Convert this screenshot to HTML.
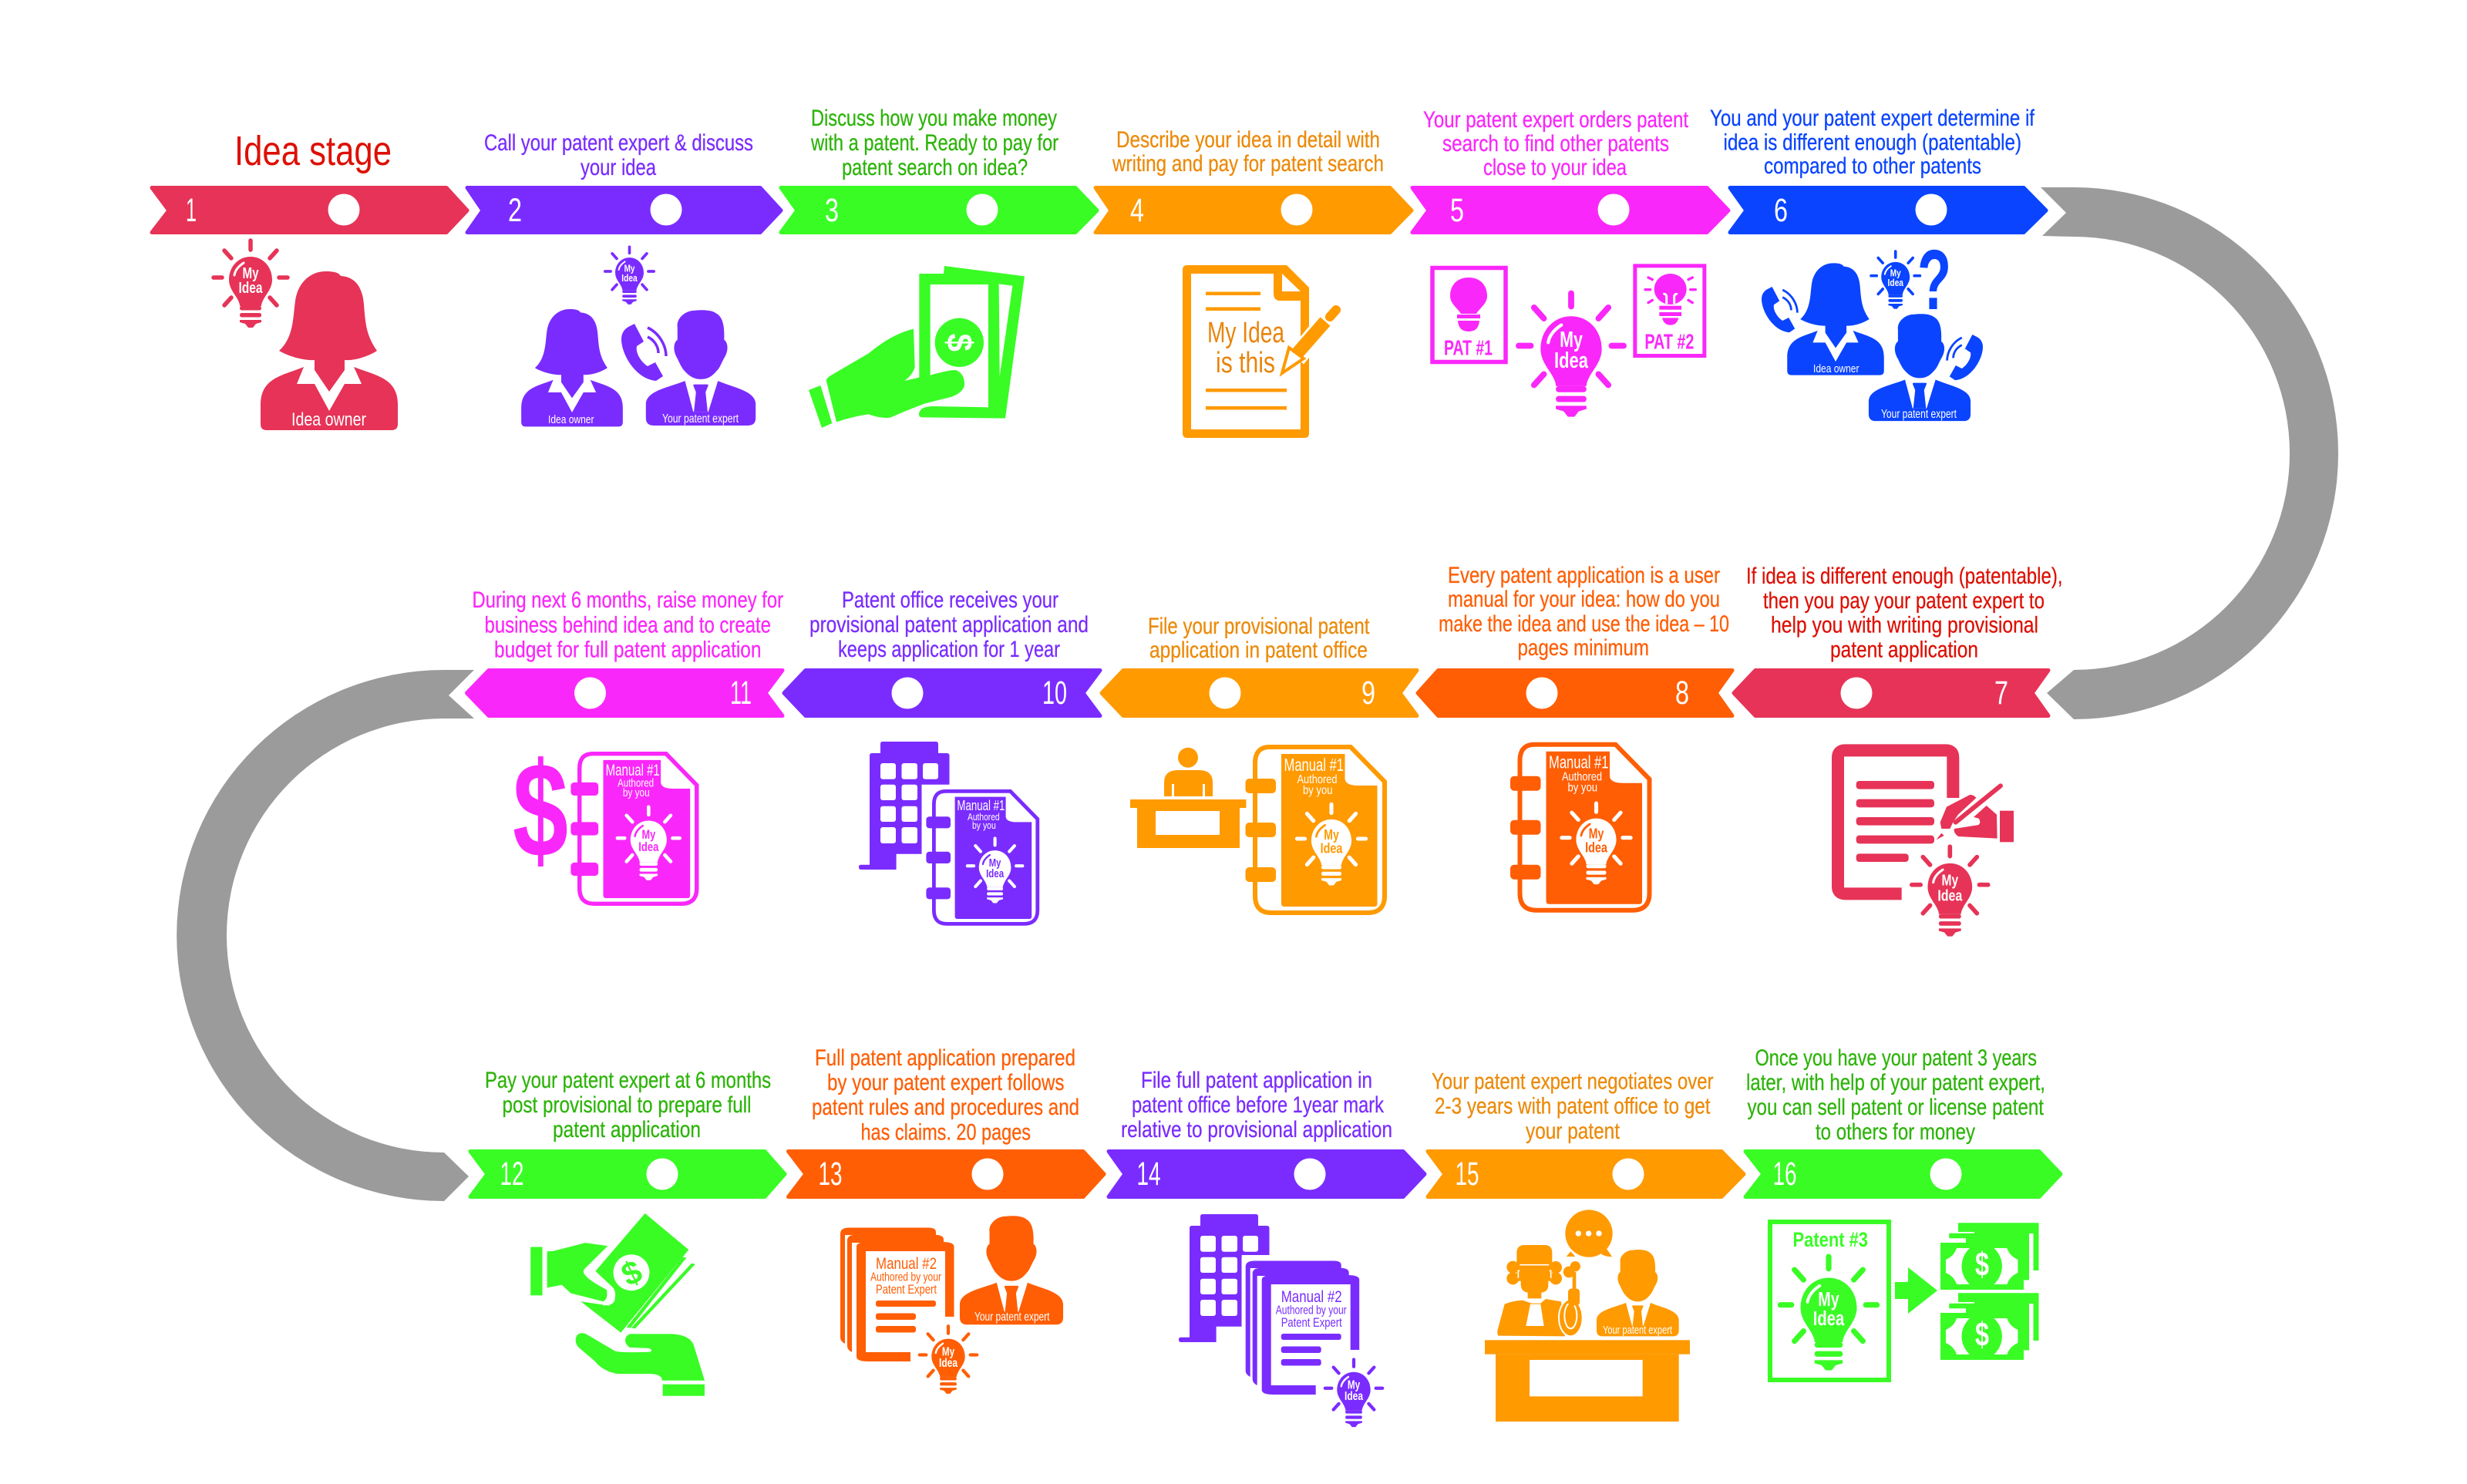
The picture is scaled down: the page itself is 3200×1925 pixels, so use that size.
<!DOCTYPE html>
<html><head><meta charset="utf-8"><title>Patent process</title>
<style>
html,body{margin:0;padding:0;background:#fff}
svg{display:block}
text{font-family:"Liberation Sans",sans-serif}
.a{stroke-width:5;stroke-linejoin:round}
.l{font-size:30px;stroke-width:.3}
.n{font-size:43px;fill:#fff;text-anchor:middle}
.bt{text-anchor:middle;font-size:20px;font-weight:bold}
.s{font-size:13px;fill:#fff}
</style></head><body>
<svg xmlns="http://www.w3.org/2000/svg" width="3200" height="1925" viewBox="0 0 3200 1925">
<defs>
<g id="b">
<path d="M0,-27C16,-27 28,-14 28,3C28,14 20,22 17,28C15,32 14,34 14,37L-14,37C-14,34 -15,32 -17,28C-20,22 -28,14 -28,3C-28,-14 -16,-27 0,-27Z"/>
<rect x="-14" y="37" width="28" height="5.5" rx="2.5"/><rect x="-14" y="46" width="28" height="5.5" rx="2.5"/>
<path d="M-14,55H14V58L7,60L3,65H-3L-7,60L-14,58Z"/>
<g stroke="currentColor" stroke-width="5.5" stroke-linecap="round" fill="none">
<path d="M0,-48V-36M-34,-35L-25,-25M34,-35L25,-25M-48,0H-37M48,0H37M-34,36L-25,26M34,36L25,26"/></g>
<path d="M-21,-3C-20,-10 -15,-15 -9,-19" fill="none" stroke-width="3" stroke-linecap="round" style="stroke:var(--h)"/>
</g>
<g id="w">
<path d="M-5,2C-22,2 -40,14 -44,40C-47,62 -46,88 -65,105C-50,114 -28,118 -19,117L-19,130L0,158L20,130L20,117C30,118 48,114 62,105C48,85 47,70 45,45C43,20 32,9 15,8C12,3 5,2 -5,2Z"/>
<path d="M-33,126C-60,137 -89,140 -89,175V200Q-89,208 -81,208H81Q89,208 89,200V175C89,140 60,137 32,126L42,148H20L0,183L-19,148H-42Z"/>
</g>
<g id="m">
<path d="M-68,50C-72,25 -45,2 -20,2C-5,0 30,-2 45,10C62,20 70,40 68,87C80,95 82,120 67,142C60,155 55,170 47,177C30,198 15,202 0,202C-15,202 -30,198 -48,177C-55,170 -62,155 -68,142C-82,120 -80,95 -68,87Z"/>
<path d="M-46,207C-90,225 -160,235 -160,275V315Q-160,337 -138,337H138Q160,337 160,315V275C160,235 90,225 50,207L22,297H-22Z"/>
<path d="M-22,220Q-22,217 -18,217H18Q22,217 22,220L14,240L20,297H-20L-14,240Z"/>
</g>
<g id="ph">
<path d="M9,4L17,0L29,23L20,29C18,38 26,50 34,55L44,50L54,68L45,74C19,72 0,40 0,20C0,12 4,7 9,4Z"/>
<path d="M34,5C49,12 58,28 58,42M34,17C43,21 48,30 48,38" fill="none" stroke="currentColor" stroke-width="3.5"/>
</g>
<g id="mn">
<path d="M22,3H127L171,48V196Q171,218 149,218H24Q3,218 3,196V24Q3,3 22,3Z" fill="none" stroke="currentColor" stroke-width="6"/>
<path d="M37,12H119.5V44Q120,53 137,53H161.5V206Q161.5,210 158,210H41Q37,210 37,206Z"/>
<rect x="-9.5" y="44" width="39.5" height="19" rx="5"/><rect x="-9.5" y="101" width="39.5" height="19" rx="5"/><rect x="-9.5" y="159" width="39.5" height="19" rx="5"/>
</g>
<g id="bd">
<path d="M1142,965Q1142,962 1145,962H1214Q1217,962 1217,965V977H1228Q1231.5,977 1231.5,980V1017.7H1195.5V1107.7H1162.6V1128H1117Q1114,1128 1114,1125V1124Q1114,1121.7 1117,1121.7H1128V980Q1128,977 1131,977H1142Z"/>
<g fill="#fff">
<rect x="1142" y="990" width="20" height="20.7" rx="3"/><rect x="1169.5" y="990" width="20.5" height="20.7" rx="3"/><rect x="1197" y="990" width="20" height="20.7" rx="3"/>
<rect x="1142" y="1017.7" width="20" height="20.3" rx="3"/><rect x="1169.5" y="1017.7" width="20.5" height="20.3" rx="3"/>
<rect x="1142" y="1045.7" width="20" height="20.3" rx="3"/><rect x="1169.5" y="1045.7" width="20.5" height="20.3" rx="3"/>
<rect x="1142" y="1073" width="20" height="21" rx="3"/><rect x="1169.5" y="1073" width="20.5" height="21" rx="3"/>
</g></g>
<g id="dk">
<path d="M1090,1600Q1090,1592.5 1102,1592.5H1204Q1214,1592.5 1214,1598V1602H1096V1743Q1090,1740 1090,1735Z"/>
<path d="M1099,1609Q1099,1601.8 1110,1601.8H1212Q1224,1601.8 1224,1608V1612H1105V1754Q1099,1751 1099,1746Z"/>
<path d="M1111,1617Q1111,1611 1126,1611H1222Q1237.5,1611 1237.5,1617V1708H1226V1623H1123V1754H1181V1766H1126Q1111,1766 1111,1760Z"/>
<rect x="1136" y="1687" width="78" height="8" rx="3"/><rect x="1136" y="1703.5" width="52" height="8.5" rx="3"/><rect x="1136" y="1720" width="52" height="8.5" rx="3"/>
</g>
<g id="st">
<path d="M23,-25.7H127.5V36H120.5V-12H44V-14H23Z"/>
<path d="M11.3,-12.3H115V48.5H108V0H33V-5.7H11.3Z"/>
<rect x="0" y="0" width="108" height="61"/>
<g fill="#fff">
<path d="M21,7H38C24,20 24,41 38,54H21Q18,44 7,39V22Q18,17 21,7Z"/>
<path d="M86.4,7H69.4C83.4,20 83.4,41 69.4,54H86.4Q89.4,44 100.4,39V22Q89.4,17 86.4,7Z"/>
</g>
</g>
</defs>
<rect width="3200" height="1925" fill="#fff"/>

<!-- grey connectors -->
<path d="M2647,243L2690,243A343,345 0 0 1 2690,933L2655,899L2690,869A280,281 0 0 0 2690,307L2649,306L2680,276Z" fill="#9B9B9B"/>
<path d="M615,869L576,869A347,344.5 0 0 0 576,1558L608,1526L576,1495A282,281.5 0 0 1 576,932L615,932L582,902Z" fill="#9B9B9B"/>

<!-- arrows -->
<g class="a">
<path fill="#E63357" stroke="#E63357" d="M197,243.5H579L606,273L579,301.5H197L219,273Z"/>
<path fill="#7A2CFF" stroke="#7A2CFF" d="M606,243.5H986L1013,273L986,301.5H606L626,273Z"/>
<path fill="#39FC25" stroke="#39FC25" d="M1013,243.5H1395L1423,273L1395,301.5H1013L1034,273Z"/>
<path fill="#FF9A00" stroke="#FF9A00" d="M1421,243.5H1803L1831,273L1803,301.5H1421L1441,273Z"/>
<path fill="#FA27FA" stroke="#FA27FA" d="M1832,243.5H2214L2242,273L2214,301.5H1832L1853,273Z"/>
<path fill="#0A44FF" stroke="#0A44FF" d="M2244,243.5H2625L2654,273L2625,301.5H2244L2265,273Z"/>
<path fill="#E63357" stroke="#E63357" d="M2249,899L2277,869.5H2657L2636,899L2657,928.5H2277Z"/>
<path fill="#FF5E05" stroke="#FF5E05" d="M1839,899L1865.5,869.5H2247L2226,899L2247,928.5H1865.5Z"/>
<path fill="#FF9A00" stroke="#FF9A00" d="M1429,899L1457,869.5H1838L1816,899L1838,928.5H1457Z"/>
<path fill="#7A2CFF" stroke="#7A2CFF" d="M1017,899L1045,869.5H1427L1405,899L1427,928.5H1045Z"/>
<path fill="#FA27FA" stroke="#FA27FA" d="M605.5,899L634,869.5H1015L993,899L1015,928.5H634Z"/>
<path fill="#39FC25" stroke="#39FC25" d="M610,1493.5H992L1018,1523L992,1552.5H610L632,1523Z"/>
<path fill="#FF5E05" stroke="#FF5E05" d="M1022.5,1493.5H1405L1432,1523L1405,1552.5H1022.5L1045,1523Z"/>
<path fill="#7A2CFF" stroke="#7A2CFF" d="M1438,1493.5H1820L1848,1523L1820,1552.5H1438L1459,1523Z"/>
<path fill="#FF9A00" stroke="#FF9A00" d="M1852,1493.5H2233L2262,1523L2233,1552.5H1852L1874,1523Z"/>
<path fill="#39FC25" stroke="#39FC25" d="M2264,1493.5H2645L2673,1523L2645,1552.5H2264L2287,1523Z"/>
</g>
<g fill="#fff">
<circle cx="446" cy="272" r="20.5"/><circle cx="864" cy="272" r="20.5"/><circle cx="1274" cy="272" r="20.5"/><circle cx="1682" cy="272" r="20.5"/><circle cx="2093" cy="272" r="20.5"/><circle cx="2505" cy="272" r="20.5"/>
<circle cx="2408" cy="899" r="20.5"/><circle cx="2000" cy="899" r="20.5"/><circle cx="1589" cy="899" r="20.5"/><circle cx="1177" cy="899" r="20.5"/><circle cx="765.5" cy="899" r="20.5"/>
<circle cx="859" cy="1523" r="20.5"/><circle cx="1281" cy="1523" r="20.5"/><circle cx="1699" cy="1523" r="20.5"/><circle cx="2112" cy="1523" r="20.5"/><circle cx="2524" cy="1523" r="20.5"/>
</g>
<g>
<text class="n" x="248" y="287" textLength="14" lengthAdjust="spacingAndGlyphs">1</text>
<text class="n" x="668" y="287" textLength="18" lengthAdjust="spacingAndGlyphs">2</text>
<text class="n" x="1079" y="287" textLength="18" lengthAdjust="spacingAndGlyphs">3</text>
<text class="n" x="1475" y="287" textLength="18" lengthAdjust="spacingAndGlyphs">4</text>
<text class="n" x="1890" y="287" textLength="18" lengthAdjust="spacingAndGlyphs">5</text>
<text class="n" x="2310" y="287" textLength="18" lengthAdjust="spacingAndGlyphs">6</text>
<text class="n" x="2596" y="913" textLength="18" lengthAdjust="spacingAndGlyphs">7</text>
<text class="n" x="2182" y="913" textLength="18" lengthAdjust="spacingAndGlyphs">8</text>
<text class="n" x="1775" y="913" textLength="18" lengthAdjust="spacingAndGlyphs">9</text>
<text class="n" x="1368" y="913" textLength="32" lengthAdjust="spacingAndGlyphs">10</text>
<text class="n" x="961" y="913" textLength="28" lengthAdjust="spacingAndGlyphs">11</text>
<text class="n" x="664" y="1537" textLength="31" lengthAdjust="spacingAndGlyphs">12</text>
<text class="n" x="1077" y="1537" textLength="31" lengthAdjust="spacingAndGlyphs">13</text>
<text class="n" x="1490" y="1537" textLength="31" lengthAdjust="spacingAndGlyphs">14</text>
<text class="n" x="1903" y="1537" textLength="31" lengthAdjust="spacingAndGlyphs">15</text>
<text class="n" x="2315" y="1537" textLength="31" lengthAdjust="spacingAndGlyphs">16</text>
</g>

<!-- labels -->
<text x="304" y="214" font-size="54" fill="#DD1005" textLength="204" lengthAdjust="spacingAndGlyphs">Idea stage</text>
<g class="l" fill="#7A2CFF" stroke="#7A2CFF">
<text x="628" y="195" textLength="349" lengthAdjust="spacingAndGlyphs">Call your patent expert &amp; discuss</text>
<text x="753" y="227" textLength="98" lengthAdjust="spacingAndGlyphs">your idea</text>
<text x="1092" y="788" textLength="281" lengthAdjust="spacingAndGlyphs">Patent office receives your</text>
<text x="1050" y="820" textLength="362" lengthAdjust="spacingAndGlyphs">provisional patent application and</text>
<text x="1087" y="852" textLength="288" lengthAdjust="spacingAndGlyphs">keeps application for 1 year</text>
<text x="1480" y="1411" textLength="300" lengthAdjust="spacingAndGlyphs">File full patent application in</text>
<text x="1468" y="1443" textLength="327" lengthAdjust="spacingAndGlyphs">patent office before 1year mark</text>
<text x="1454" y="1475" textLength="352" lengthAdjust="spacingAndGlyphs">relative to provisional application</text>
</g>
<g class="l" fill="#2DB40A" stroke="#2DB40A">
<text x="1052" y="163" textLength="319" lengthAdjust="spacingAndGlyphs">Discuss how you make money</text>
<text x="1052" y="195" textLength="321" lengthAdjust="spacingAndGlyphs">with a patent. Ready to pay for</text>
<text x="1092" y="227" textLength="241" lengthAdjust="spacingAndGlyphs">patent search on idea?</text>
<text x="629" y="1411" textLength="371" lengthAdjust="spacingAndGlyphs">Pay your patent expert at 6 months</text>
<text x="651.5" y="1443" textLength="323" lengthAdjust="spacingAndGlyphs">post provisional to prepare full</text>
<text x="717" y="1475" textLength="192" lengthAdjust="spacingAndGlyphs">patent application</text>
<text x="2276.5" y="1382" textLength="365.5" lengthAdjust="spacingAndGlyphs">Once you have your patent 3 years</text>
<text x="2265" y="1414" textLength="388" lengthAdjust="spacingAndGlyphs">later, with help of your patent expert,</text>
<text x="2266.5" y="1446" textLength="384.5" lengthAdjust="spacingAndGlyphs">you can sell patent or license patent</text>
<text x="2355" y="1478" textLength="207" lengthAdjust="spacingAndGlyphs">to others for money</text>
</g>
<g class="l" fill="#EC8A0A" stroke="#EC8A0A">
<text x="1448" y="191" textLength="342" lengthAdjust="spacingAndGlyphs">Describe your idea in detail with</text>
<text x="1443" y="222" textLength="352" lengthAdjust="spacingAndGlyphs">writing and pay for patent search</text>
<text x="1489" y="822" textLength="287.5" lengthAdjust="spacingAndGlyphs">File your provisional patent</text>
<text x="1491" y="853" textLength="283" lengthAdjust="spacingAndGlyphs">application in patent office</text>
<text x="1857" y="1412.5" textLength="365.5" lengthAdjust="spacingAndGlyphs">Your patent expert negotiates over</text>
<text x="1861" y="1444.5" textLength="357.5" lengthAdjust="spacingAndGlyphs">2-3 years with patent office to get</text>
<text x="1979" y="1477" textLength="122" lengthAdjust="spacingAndGlyphs">your patent</text>
</g>
<g class="l" fill="#FA27FA" stroke="#FA27FA">
<text x="1846" y="165" textLength="344" lengthAdjust="spacingAndGlyphs">Your patent expert orders patent</text>
<text x="1871" y="196" textLength="294" lengthAdjust="spacingAndGlyphs">search to find other patents</text>
<text x="1924" y="227" textLength="186" lengthAdjust="spacingAndGlyphs">close to your idea</text>
<text x="612.5" y="788" textLength="403.5" lengthAdjust="spacingAndGlyphs">During next 6 months, raise money for</text>
<text x="628.5" y="820.5" textLength="371.5" lengthAdjust="spacingAndGlyphs">business behind idea and to create</text>
<text x="641" y="852.5" textLength="346.5" lengthAdjust="spacingAndGlyphs">budget for full patent application</text>
</g>
<g class="l" fill="#0A44FF" stroke="#0A44FF">
<text x="2218" y="163" textLength="421" lengthAdjust="spacingAndGlyphs">You and your patent expert determine if</text>
<text x="2235.5" y="194.5" textLength="386.5" lengthAdjust="spacingAndGlyphs">idea is different enough (patentable)</text>
<text x="2288" y="225" textLength="282" lengthAdjust="spacingAndGlyphs">compared to other patents</text>
</g>
<g class="l" fill="#DD1005" stroke="#DD1005">
<text x="2265" y="757" textLength="410.5" lengthAdjust="spacingAndGlyphs">If idea is different enough (patentable),</text>
<text x="2287" y="789" textLength="365" lengthAdjust="spacingAndGlyphs">then you pay your patent expert to</text>
<text x="2297" y="820.5" textLength="347" lengthAdjust="spacingAndGlyphs">help you with writing provisional</text>
<text x="2374" y="852.5" textLength="192" lengthAdjust="spacingAndGlyphs">patent application</text>
</g>
<g class="l" fill="#FF5E05" stroke="#FF5E05">
<text x="1878" y="756" textLength="353" lengthAdjust="spacingAndGlyphs">Every patent application is a user</text>
<text x="1878" y="787" textLength="353" lengthAdjust="spacingAndGlyphs">manual for your idea: how do you</text>
<text x="1866" y="819" textLength="377" lengthAdjust="spacingAndGlyphs">make the idea and use the idea – 10</text>
<text x="1968.5" y="850" textLength="170.5" lengthAdjust="spacingAndGlyphs">pages minimum</text>
<text x="1057" y="1382" textLength="338" lengthAdjust="spacingAndGlyphs">Full patent application prepared</text>
<text x="1073" y="1414" textLength="307.5" lengthAdjust="spacingAndGlyphs">by your patent expert follows</text>
<text x="1053" y="1446" textLength="347" lengthAdjust="spacingAndGlyphs">patent rules and procedures and</text>
<text x="1116.5" y="1478.5" textLength="220.5" lengthAdjust="spacingAndGlyphs">has claims. 20 pages</text>
</g>

<!-- step 1 -->
<g transform="translate(325,360)" fill="#E63357" color="#E63357" style="--h:#fff"><use href="#b"/>
<text class="bt" y="1" fill="#fff" textLength="21" lengthAdjust="spacingAndGlyphs">My</text><text class="bt" y="20" fill="#fff" textLength="31" lengthAdjust="spacingAndGlyphs">Idea</text></g>
<use href="#w" transform="translate(427,350)" fill="#E63357"/>
<text x="378" y="552" font-size="24" fill="#fff" textLength="97" lengthAdjust="spacingAndGlyphs">Idea owner</text>

<!-- step 2 -->
<g transform="translate(816.5,352) scale(.66)" fill="#7A2CFF" color="#7A2CFF" style="--h:#fff"><use href="#b"/>
<text class="bt" y="1" fill="#fff" textLength="21" lengthAdjust="spacingAndGlyphs">My</text><text class="bt" y="20" fill="#fff" textLength="31" lengthAdjust="spacingAndGlyphs">Idea</text></g>
<use href="#w" transform="translate(742,399.5) scale(.74)" fill="#7A2CFF"/>
<use href="#m" transform="translate(909,402) scale(.445)" fill="#7A2CFF"/>
<use href="#ph" transform="translate(806,420)" fill="#7A2CFF" color="#7A2CFF"/>
<text x="711" y="549" font-size="15" fill="#fff" textLength="59.5" lengthAdjust="spacingAndGlyphs">Idea owner</text>
<text x="859" y="548" font-size="16" fill="#fff" textLength="99" lengthAdjust="spacingAndGlyphs">Your patent expert</text>

<!-- step 3 -->
<g transform="translate(1040,330) scale(.33333)" fill="#39FC25">
<path d="M457,75L552,75L555,45L867,85L792,638L470,634Q455,634 456,620Q460,592 510,591L726,595V117H500V470L457,480Z"/>
<path d="M767,115L820,122L770,475Z" fill="#fff"/>
<circle cx="613" cy="343" r="95"/>
<text transform="translate(613,343) rotate(90)" y="46" font-size="140" font-weight="bold" fill="#fff" text-anchor="middle" textLength="70" lengthAdjust="spacingAndGlyphs">$</text>
<path d="M95,490Q100,478 115,470L260,385Q350,310 435,290L440,440Q430,470 400,492L460,478L500,470Q570,450 600,450Q635,465 633,510Q625,540 580,555Q520,570 480,580Q400,610 345,635Q310,640 260,622Q200,630 135,652Z"/>
<path d="M27,528L73,510L118,657L78,675Z"/>
</g>

<!-- step 4 -->
<path d="M1534,350Q1534,344 1540,344H1669L1698,373V562Q1698,568 1692,568H1540Q1534,568 1534,562Z" fill="#FF9A00"/>
<path d="M1545,355H1652V380Q1652,390 1660,390H1687V557H1545Z" fill="#fff"/>
<path d="M1663,355L1687,378H1663Z" fill="#fff"/>
<g fill="#FF9A00"><rect x="1564" y="378.5" width="71" height="4.5"/><rect x="1564" y="398.5" width="71" height="4.5"/><rect x="1564" y="504" width="105" height="4.5"/><rect x="1564" y="527" width="105" height="4.5"/></g>
<text x="1566" y="444" font-size="38" fill="#E8850C" textLength="100" lengthAdjust="spacingAndGlyphs">My Idea</text>
<text x="1577" y="483" font-size="38" fill="#E8850C" textLength="77" lengthAdjust="spacingAndGlyphs">is this</text>
<path d="M1681,464L1726,410" stroke="#fff" stroke-width="26" fill="none"/>
<path d="M1683,458L1719,417" stroke="#FF9A00" stroke-width="17" fill="none"/>
<path d="M1725,411L1733,402" stroke="#FF9A00" stroke-width="12" stroke-linecap="round" fill="none"/>
<path d="M1663,484L1672,451L1691,465Z" fill="#fff" stroke="#FF9A00" stroke-width="4"/>

<!-- step 5 -->
<rect x="1858" y="347.5" width="95" height="122" fill="none" stroke="#FA27FA" stroke-width="5.5"/>
<g fill="#FA27FA">
<path d="M1905,360C1920,360 1929,370 1929,384C1929,394 1919,400 1915,407H1895C1891,400 1881,394 1881,384C1881,370 1890,360 1905,360Z"/>
<rect x="1890" y="408" width="30" height="5"/>
<path d="M1891,416H1919Q1918,430 1905,430Q1892,430 1891,416Z"/>
</g>
<text x="1873" y="460.5" font-size="28" font-weight="bold" fill="#FA27FA" textLength="63" lengthAdjust="spacingAndGlyphs">PAT #1</text>
<g transform="translate(2038,448.5) scale(1.417)" fill="#FA27FA" color="#FA27FA" style="--h:#fff"><use href="#b"/>
<text class="bt" y="1" fill="#fff" textLength="21" lengthAdjust="spacingAndGlyphs">My</text><text class="bt" y="20" fill="#fff" textLength="31" lengthAdjust="spacingAndGlyphs">Idea</text></g>
<g transform="translate(2110,330) scale(.33333)" fill="#FA27FA">
<rect x="32.5" y="44.5" width="270" height="350" fill="none" stroke="#FA27FA" stroke-width="15"/>
<ellipse cx="170" cy="135" rx="63" ry="60"/>
<path d="M155,192V162Q150,150 143,156M185,192V162Q190,150 197,156" fill="none" stroke="#fff" stroke-width="9"/>
<rect x="127" y="200" width="86" height="15"/><rect x="127" y="225" width="86" height="15"/>
<path d="M138,247H202Q195,275 170,275Q145,275 138,247Z"/>
<path d="M84,90L100,98M72,137H92M84,188L100,178M256,90L240,98M268,137H248M256,188L240,178" stroke="#FA27FA" stroke-width="10" stroke-linecap="round" fill="none"/>
<text x="70" y="368" font-size="82" font-weight="bold" textLength="192" lengthAdjust="spacingAndGlyphs">PAT #2</text>
</g>

<!-- step 6 -->
<use href="#ph" transform="translate(2285,372) scale(.8)" fill="#0A44FF" color="#0A44FF"/>
<use href="#ph" transform="translate(2572,434) scale(-.8,.8)" fill="#0A44FF" color="#0A44FF"/>
<use href="#w" transform="translate(2381,340) scale(.705)" fill="#0A44FF"/>
<use href="#m" transform="translate(2490,407) scale(.413)" fill="#0A44FF"/>
<g transform="translate(2458.7,357.7) scale(.66)" fill="#0A44FF" color="#0A44FF" style="--h:#fff"><use href="#b"/>
<text class="bt" y="1" fill="#fff" textLength="21" lengthAdjust="spacingAndGlyphs">My</text><text class="bt" y="20" fill="#fff" textLength="31" lengthAdjust="spacingAndGlyphs">Idea</text></g>
<text x="2487" y="401" font-size="110" font-weight="bold" fill="#0A44FF" textLength="44" lengthAdjust="spacingAndGlyphs">?</text>
<text x="2352" y="483" font-size="15" fill="#fff" textLength="59.5" lengthAdjust="spacingAndGlyphs">Idea owner</text>
<text x="2440" y="542" font-size="16" fill="#fff" textLength="98" lengthAdjust="spacingAndGlyphs">Your patent expert</text>

<!-- step 7 -->
<g transform="translate(2370,960) scale(.33333)" fill="#E63357">
<path d="M290,598H70Q42,598 42,570V68Q42,40 70,40H462Q490,40 490,68V225" fill="none" stroke="#E63357" stroke-width="48"/>
<rect x="113" y="159" width="304" height="32" rx="12"/><rect x="113" y="230" width="304" height="32" rx="12"/><rect x="113" y="300" width="304" height="32" rx="12"/><rect x="113" y="371" width="304" height="32" rx="12"/><rect x="113" y="442" width="204" height="32" rx="12"/>
<path d="M440,320L465,260L555,213Q570,212 580,225L510,290L490,320L478,345L445,345Z"/>
<path d="M620,255L660,290L662,383L510,375Q490,360 495,345L590,330Q600,320 590,305L570,300Z"/>
<rect x="672" y="275" width="54" height="122"/>
<path d="M675,178L500,320" stroke="#E63357" stroke-width="18" stroke-linecap="round" fill="none"/>
<path d="M425,388L445,362L455,372Z"/>
</g>
<g transform="translate(2529.3,1147.7) scale(1.03)" fill="#E63357" color="#E63357" style="--h:#fff"><use href="#b"/>
<text class="bt" y="1" fill="#fff" textLength="21" lengthAdjust="spacingAndGlyphs">My</text><text class="bt" y="20" fill="#fff" textLength="31" lengthAdjust="spacingAndGlyphs">Idea</text></g>

<!-- step 8 -->
<g transform="translate(1968.5,962.7)" fill="#FF5E05" color="#FF5E05"><use href="#mn"/>
<text x="40.5" y="34" font-size="23" fill="#fff" textLength="77.5" lengthAdjust="spacingAndGlyphs">Manual #1</text>
<text x="57.5" y="50" font-size="16" fill="#fff" textLength="52" lengthAdjust="spacingAndGlyphs">Authored</text>
<text x="65" y="64" font-size="16" fill="#fff" textLength="38.5" lengthAdjust="spacingAndGlyphs">by you</text>
<g transform="translate(102,124) scale(.93)" fill="#fff" color="#fff" style="--h:#FF5E05"><use href="#b"/>
<text class="bt" y="1" fill="#FF5E05" textLength="21" lengthAdjust="spacingAndGlyphs">My</text><text class="bt" y="20" fill="#FF5E05" textLength="31" lengthAdjust="spacingAndGlyphs">Idea</text></g></g>

<!-- step 9 -->
<g fill="#FF9A00">
<circle cx="1541" cy="982.7" r="13"/>
<path d="M1510,1033V1015Q1510,999 1528,999H1555Q1573,999 1573,1015V1033H1563V1017H1560V1033H1523V1017H1520V1033Z"/>
<rect x="1466" y="1037" width="150.4" height="11"/>
<path d="M1475,1048H1608V1100H1475ZM1499,1052V1083H1582V1052Z" fill-rule="evenodd"/>
</g>
<g transform="translate(1625,966)" fill="#FF9A00" color="#FF9A00"><use href="#mn"/>
<text x="40.5" y="34" font-size="23" fill="#fff" textLength="77.5" lengthAdjust="spacingAndGlyphs">Manual #1</text>
<text x="57.5" y="50" font-size="16" fill="#fff" textLength="52" lengthAdjust="spacingAndGlyphs">Authored</text>
<text x="65" y="64" font-size="16" fill="#fff" textLength="38.5" lengthAdjust="spacingAndGlyphs">by you</text>
<g transform="translate(102,122) scale(.93)" fill="#fff" color="#fff" style="--h:#FF9A00"><use href="#b"/>
<text class="bt" y="1" fill="#FF9A00" textLength="21" lengthAdjust="spacingAndGlyphs">My</text><text class="bt" y="20" fill="#FF9A00" textLength="31" lengthAdjust="spacingAndGlyphs">Idea</text></g></g>

<!-- step 10 -->
<use href="#bd" fill="#7A2CFF"/>
<g transform="translate(1209,1024) scale(.8)" fill="#7A2CFF" color="#7A2CFF"><use href="#mn"/>
<text x="40.5" y="34" font-size="23" fill="#fff" textLength="77.5" lengthAdjust="spacingAndGlyphs">Manual #1</text>
<text x="57.5" y="50" font-size="16" fill="#fff" textLength="52" lengthAdjust="spacingAndGlyphs">Authored</text>
<text x="65" y="64" font-size="16" fill="#fff" textLength="38.5" lengthAdjust="spacingAndGlyphs">by you</text>
<g transform="translate(102,124) scale(.93)" fill="#fff" color="#fff" style="--h:#7A2CFF"><use href="#b"/>
<text class="bt" y="1" fill="#7A2CFF" textLength="21" lengthAdjust="spacingAndGlyphs">My</text><text class="bt" y="20" fill="#7A2CFF" textLength="31" lengthAdjust="spacingAndGlyphs">Idea</text></g></g>

<!-- step 11 -->
<text x="665" y="1111" font-size="175" font-weight="bold" fill="#FA27FA" textLength="72" lengthAdjust="spacingAndGlyphs">$</text>
<g transform="translate(749,975) scale(.905)" fill="#FA27FA" color="#FA27FA"><use href="#mn"/>
<text x="40.5" y="34" font-size="23" fill="#fff" textLength="77.5" lengthAdjust="spacingAndGlyphs">Manual #1</text>
<text x="57.5" y="50" font-size="16" fill="#fff" textLength="52" lengthAdjust="spacingAndGlyphs">Authored</text>
<text x="65" y="64" font-size="16" fill="#fff" textLength="38.5" lengthAdjust="spacingAndGlyphs">by you</text>
<g transform="translate(102,124) scale(.93)" fill="#fff" color="#fff" style="--h:#FA27FA"><use href="#b"/>
<text class="bt" y="1" fill="#FA27FA" textLength="21" lengthAdjust="spacingAndGlyphs">My</text><text class="bt" y="20" fill="#FA27FA" textLength="31" lengthAdjust="spacingAndGlyphs">Idea</text></g></g>

<!-- step 12 -->
<g transform="translate(220,1340) scale(.7651,.35714)" fill="#39FC25">
<path d="M806,655L880,787L765,1088L697,975L745,990Q762,960 752,925L722,865Z"/>
<path d="M873,815L778,1070M888,838L786,1072" stroke="#39FC25" stroke-width="7" fill="none"/>
<rect x="612" y="777" width="20" height="176"/>
<path d="M640,793L650,792L705,762L747,775L705,860Q700,880 740,925Q745,965 735,975L680,945L665,915L640,925Z"/>
<path d="M747,775L707,860Q700,880 745,930Q760,985 735,985" fill="none" stroke="#fff" stroke-width="9"/>
<path d="M690,1100Q695,1085 705,1092L755,1155Q765,1162 815,1158Q820,1150 812,1145L780,1142Q768,1125 775,1100L780,1093H850Q880,1095 888,1130L907,1262H835Q835,1240 815,1238L760,1238Q735,1230 720,1190L695,1145Q685,1125 690,1100Z"/>
<rect x="836" y="1276" width="71" height="42"/>
</g>
<circle cx="819" cy="1650.7" r="23.5" fill="#fff"/>
<text transform="translate(819,1650.7) rotate(-25)" y="15" font-size="42" font-weight="bold" fill="#39FC25" text-anchor="middle">$</text>

<!-- step 13 -->
<use href="#dk" fill="#FF5E05"/>
<text x="1136" y="1646" font-size="21" fill="#FF5E05" textLength="79" lengthAdjust="spacingAndGlyphs">Manual #2</text>
<text x="1129" y="1661.5" font-size="16" fill="#FF5E05" textLength="92" lengthAdjust="spacingAndGlyphs">Authored by your</text>
<text x="1136" y="1678" font-size="17" fill="#FF5E05" textLength="79" lengthAdjust="spacingAndGlyphs">Patent Expert</text>
<use href="#m" transform="translate(1312,1577) scale(.419)" fill="#FF5E05"/>
<text x="1264" y="1713" font-size="16" fill="#fff" textLength="97.5" lengthAdjust="spacingAndGlyphs">Your patent expert</text>
<g transform="translate(1230,1757.5) scale(.775)" fill="#FF5E05" color="#FF5E05" style="--h:#fff"><use href="#b"/>
<text class="bt" y="1" fill="#fff" textLength="21" lengthAdjust="spacingAndGlyphs">My</text><text class="bt" y="20" fill="#fff" textLength="31" lengthAdjust="spacingAndGlyphs">Idea</text></g>

<!-- step 14 -->
<use href="#bd" transform="translate(415,613)" fill="#7A2CFF"/>
<g transform="translate(525.7,43)">
<rect x="1085" y="1585" width="160" height="195" fill="#fff"/>
<use href="#dk" fill="#7A2CFF"/>
<text x="1136" y="1646" font-size="21" fill="#7A2CFF" textLength="79" lengthAdjust="spacingAndGlyphs">Manual #2</text>
<text x="1129" y="1661.5" font-size="16" fill="#7A2CFF" textLength="92" lengthAdjust="spacingAndGlyphs">Authored by your</text>
<text x="1136" y="1678" font-size="17" fill="#7A2CFF" textLength="79" lengthAdjust="spacingAndGlyphs">Patent Expert</text>
</g>
<g transform="translate(1756,1800.7) scale(.775)" fill="#7A2CFF" color="#7A2CFF" style="--h:#fff"><use href="#b"/>
<text class="bt" y="1" fill="#fff" textLength="21" lengthAdjust="spacingAndGlyphs">My</text><text class="bt" y="20" fill="#fff" textLength="31" lengthAdjust="spacingAndGlyphs">Idea</text></g>

<!-- step 15 -->
<g transform="translate(1930,1570) scale(.33333)" fill="#FF9A00">
<circle cx="393" cy="90" r="92"/>
<path d="M305,180L322,160L340,180ZM440,170L462,150L483,180Q460,182 440,170Z"/>
<g fill="#fff"><circle cx="352" cy="90" r="11"/><circle cx="392" cy="90" r="11"/><circle cx="432" cy="90" r="11"/></g>
<path d="M112,210V165Q112,135 145,135H220Q250,135 250,165V210Z"/>
<circle cx="97" cy="221" r="24"/><circle cx="97" cy="265" r="24"/><circle cx="264" cy="222" r="24"/><circle cx="264" cy="265" r="24"/>
<rect x="112" y="205" width="138" height="70"/>
<path d="M118,264V235H124M245,264V235H239M124,212H238" fill="none" stroke="#fff" stroke-width="5"/>
<path d="M128,218H235V290Q235,320 205,320H160Q130,320 128,290Z"/>
<rect x="155" y="315" width="53" height="28"/>
<path d="M65,365Q95,352 135,350L180,362L225,345L285,355L300,490L40,488Q35,480 38,465Z"/>
<path d="M165,365L205,365L218,450H148ZM135,350L170,362L205,362L225,345L215,342L180,355L150,342Z" fill="#fff"/>
<ellipse cx="322" cy="418" rx="46" ry="72" stroke="#fff" stroke-width="6"/>
<ellipse cx="322" cy="410" rx="24" ry="50" fill="none" stroke="#fff" stroke-width="6"/>
<circle cx="315" cy="240" r="22"/><circle cx="340" cy="218" r="20"/>
<rect x="329" y="240" width="14" height="80"/>
<rect x="312" y="305" width="45" height="65" rx="12"/>
<use href="#m" transform="translate(583,153)"/>
<rect x="-12" y="505" width="798" height="55"/>
<path d="M30,560H743V822H30ZM162,582V724H602V582Z" fill-rule="evenodd"/>
</g>
<text x="2079" y="1730" font-size="15" fill="#fff" textLength="90" lengthAdjust="spacingAndGlyphs">Your patent expert</text>

<!-- step 16 -->
<rect x="2296" y="1585" width="154" height="205" fill="none" stroke="#39FC25" stroke-width="6"/>
<text x="2325.5" y="1617" font-size="27" font-weight="bold" fill="#39FC25" textLength="97.5" lengthAdjust="spacingAndGlyphs">Patent #3</text>
<g transform="translate(2372,1692.7) scale(1.304)" fill="#39FC25" color="#39FC25" style="--h:#fff"><use href="#b"/>
<text class="bt" y="1" fill="#fff" textLength="21" lengthAdjust="spacingAndGlyphs">My</text><text class="bt" y="20" fill="#fff" textLength="31" lengthAdjust="spacingAndGlyphs">Idea</text></g>
<path d="M2458,1663H2475V1644L2513,1674L2475,1704V1685H2458Z" fill="#39FC25"/>
<use href="#st" transform="translate(2517,1612)" fill="#39FC25"/>
<use href="#st" transform="translate(2517,1703)" fill="#39FC25"/>
<g font-size="44" font-weight="bold" fill="#fff" text-anchor="middle">
<text x="2571" y="1655" textLength="18" lengthAdjust="spacingAndGlyphs">$</text>
<text x="2571" y="1746" textLength="18" lengthAdjust="spacingAndGlyphs">$</text>
</g>
</svg>
</body></html>
